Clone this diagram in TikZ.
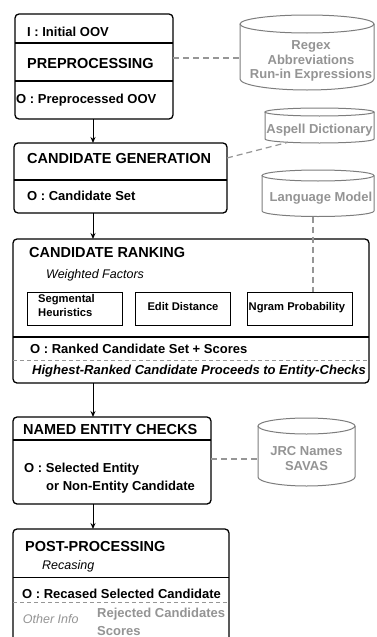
\documentclass[tikz,border=0pt]{standalone}
\usepackage{fontspec}
\setmainfont{Liberation Sans}
\usetikzlibrary{arrows.meta}
\definecolor{dbgray}{RGB}{148,148,148}
\definecolor{lngray}{RGB}{125,125,125}
\definecolor{dsgray}{RGB}{150,150,150}
\begin{document}
\begin{tikzpicture}[x=1pt,y=-1pt,
  box/.style={draw=black, line width=1.3pt, rounded corners=4pt, anchor=north west, inner sep=0pt, outer sep=0pt},
  fbox/.style={draw=black, line width=0.9pt, anchor=north west, inner sep=0pt, outer sep=0pt},
  divline/.style={draw=black, line width=1.2pt},
  ddivline/.style={draw=dsgray, line width=1pt, dash pattern=on 4pt off 3pt},
  ttl/.style={font=\fontsize{14.5}{16}\selectfont\bfseries, anchor=base west, inner sep=0pt},
  sub/.style={font=\fontsize{13}{15}\selectfont\bfseries, anchor=base west, inner sep=0pt},
  itl/.style={font=\fontsize{12.5}{15}\selectfont\itshape, anchor=base west, inner sep=0pt},
  inn/.style={font=\fontsize{11.2}{13}\selectfont\bfseries, inner sep=0pt},
  dbt/.style={font=\fontsize{13}{15}\selectfont\bfseries, text=dbgray, anchor=base, inner sep=0pt},
  dbline/.style={draw=lngray, line width=1pt},
  dashc/.style={draw=dsgray, line width=1.2pt, dash pattern=on 6pt off 4pt},
  arr/.style={draw=black, line width=1pt, -{Stealth[length=6pt,width=5pt]}}
]
\useasboundingbox (0,0) rectangle (376,637);
\clip (0,0) rectangle (376,637);
\fill[white] (0,0) rectangle (376,637);

% ---------- Box 1: preprocessing
\node[box, minimum width=158pt, minimum height=105pt] (pre) at (15,14) {};
\draw[divline] (15,43) -- (173,43);
\draw[divline] (15,81) -- (173,81);
\node[sub] (preI) at (27,36) {I : Initial OOV};
\node[ttl] (preT) at (27,68) {PREPROCESSING};
\node[sub] (preO) at (16,103.5) {O : Preprocessed OOV};

% ---------- cylinder 1
\draw[dbline] (307,24) ellipse [x radius=67, y radius=9];
\draw[dbline] (240,24) -- (240,79) arc[start angle=180, end angle=0, x radius=67, y radius=11] -- (374,24);
\coordinate (db1w) at (240,58);
\node[dbt] (db1a) at (311,49.5) {Regex};
\node[dbt] (db1b) at (311,64) {Abbreviations};
\node[dbt] (db1c) at (311,78.5) {Run-in Expressions};

% ---------- Box 2: candidate generation
\node[box, minimum width=213pt, minimum height=70pt] (gen) at (14,143) {};
\draw[divline] (14,180) -- (227,180);
\node[ttl] (genT) at (27,163.5) {CANDIDATE GENERATION};
\node[sub] (genO) at (27,200.5) {O : Candidate Set};

% ---------- cylinder 2 (Aspell)
\draw[dbline] (319.5,112) ellipse [x radius=54.5, y radius=4];
\draw[dbline] (265,112) -- (265,139) arc[start angle=180, end angle=0, x radius=54.5, y radius=4] -- (374,112);
\coordinate (db2s) at (288,142.3);
\node[dbt] (db2a) at (319.5,133.5) {Aspell Dictionary};

% ---------- cylinder 3 (Language model)
\draw[dbline] (318,175.5) ellipse [x radius=56, y radius=5.5];
\draw[dbline] (262,175.5) -- (262,211) arc[start angle=180, end angle=0, x radius=56, y radius=5.5] -- (374,175.5);
\coordinate (db3s) at (313,216.5);
\node[dbt] (db3a) at (321,201.5) {Language Model};

% ---------- Box 3: candidate ranking
\node[box, minimum width=356pt, minimum height=144pt] (rank) at (13,239) {};
\node[ttl] (rankT) at (29,257.7) {CANDIDATE RANKING};
\node[itl] (rankW) at (46,278) {Weighted Factors};
\node[fbox, minimum width=95pt, minimum height=33pt] (seg) at (27,292) {};
\node[inn, anchor=base west] (segA) at (38,302.7) {Segmental};
\node[inn, anchor=base west] (segB) at (38,316.7) {Heuristics};
\node[fbox, minimum width=95pt, minimum height=33pt] (edit) at (135,292) {};
\node[inn, anchor=base] (editT) at (183,310) {Edit Distance};
\node[fbox, minimum width=105pt, minimum height=33pt] (ngram) at (247,292) {};
\node[inn, anchor=base west] (ngramT) at (248.5,310) {Ngram Probability};
\draw[divline] (13,337) -- (369,337);
\node[sub] (rankO) at (30,353) {O : Ranked Candidate Set + Scores};
\draw[ddivline] (13,360.7) -- (369,360.7);
\node[sub, font=\fontsize{13}{15}\selectfont\bfseries\itshape] (rankH) at (32,374) {Highest-Ranked Candidate Proceeds to Entity-Checks};

% ---------- Box 4: named entity checks
\node[box, minimum width=198pt, minimum height=87pt] (ner) at (13,417) {};
\draw[divline] (13,440) -- (211,440);
\node[ttl] (nerT) at (23,434) {NAMED ENTITY CHECKS};
\node[sub] (nerO) at (24,472.7) {O : Selected Entity};
\node[sub] (nerO2) at (46,490) {or Non-Entity Candidate};

% ---------- cylinder 4 (JRC)
\draw[dbline] (306.5,426) ellipse [x radius=48.5, y radius=8];
\draw[dbline] (258,426) -- (258,477) arc[start angle=180, end angle=0, x radius=48.5, y radius=9] -- (355,426);
\coordinate (db4w) at (258,459);
\node[dbt] (db4a) at (306.5,455) {JRC Names};
\node[dbt] (db4b) at (306.5,470) {SAVAS};

% ---------- Box 5: post-processing
\node[box, minimum width=216pt, minimum height=130pt] (post) at (13,529) {};
\node[ttl] (postT) at (25,551) {POST-PROCESSING};
\node[itl] (postR) at (42,569) {Recasing};
\draw[divline] (13,577.7) -- (229,577.7);
\node[sub] (postO) at (22,598) {O : Recased Selected Candidate};
\draw[ddivline] (13,602.7) -- (229,602.7);
\node[itl, text=dbgray] (postI) at (22.7,623) {Other Info};
\node[sub, text=dbgray] (postRj) at (97,617.7) {Rejected Candidates};
\node[sub, text=dbgray] (postSc) at (97,635) {Scores};

% ---------- connectors
\draw[arr] (93,0 |- pre.south) -- (93,0 |- gen.north);
\draw[arr] (93,0 |- gen.south) -- (93,0 |- rank.north);
\draw[arr] (93,0 |- rank.south) -- (93,0 |- ner.north);
\draw[arr] (93,0 |- ner.south) -- (93,0 |- post.north);

\draw[dashc] (pre.east |- db1w) -- (db1w);
\draw[dashc] (gen.east |- 0,158) -- (db2s);
\draw[dashc] (db3s) -- (db3s |- ngram.north);
\draw[dashc] (ner.east |- db4w) -- (db4w);
\end{tikzpicture}
\end{document}
